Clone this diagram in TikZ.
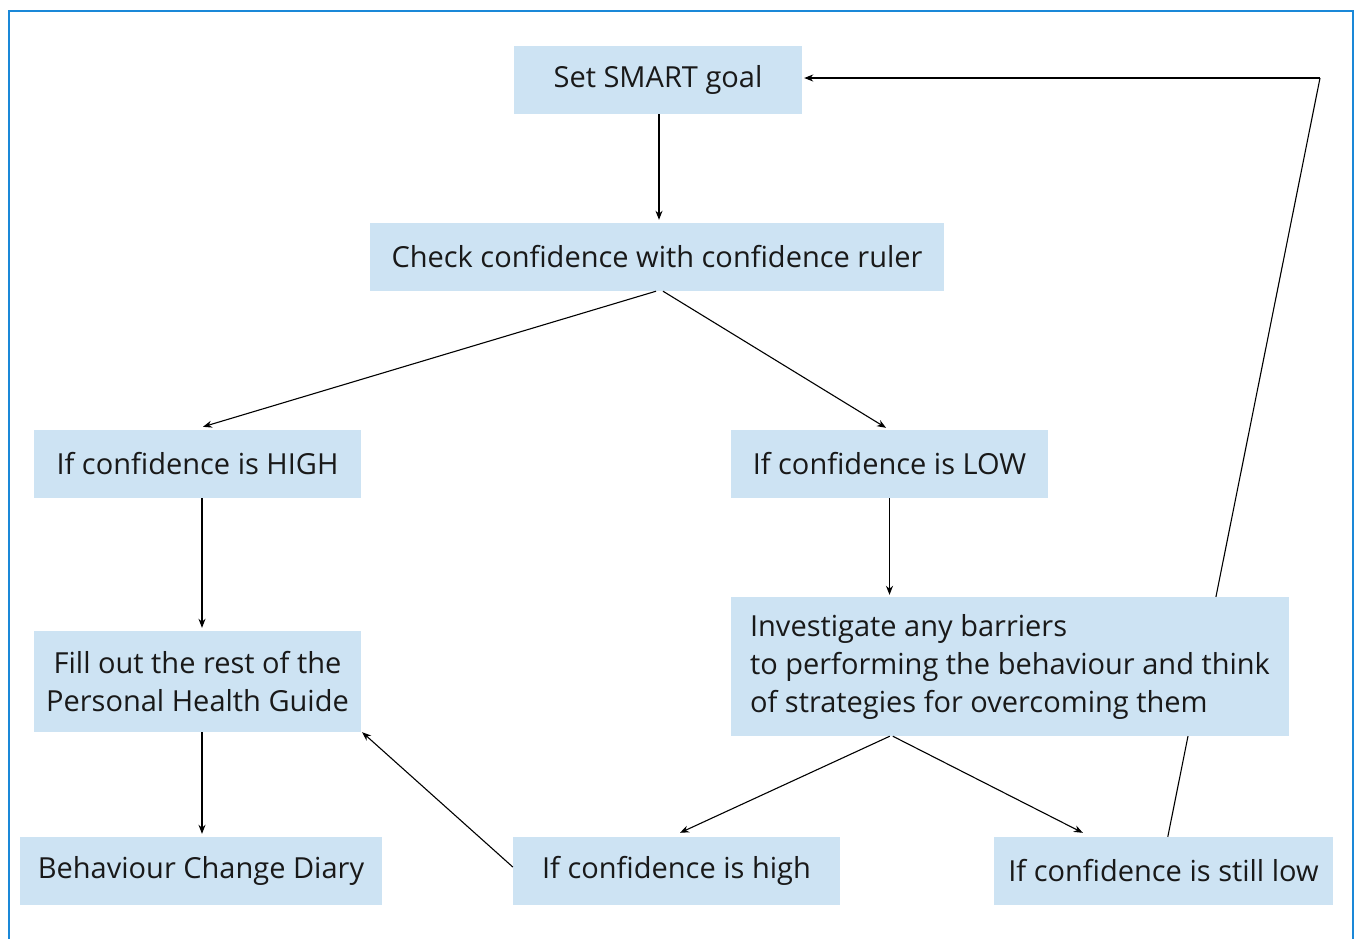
\documentclass[tikz,border=0pt]{standalone}
\usepackage{fontspec}
\setmainfont{Open Sans}
\usetikzlibrary{arrows.meta,calc}
\definecolor{boxblue}{HTML}{CDE3F3}
\definecolor{frameblue}{HTML}{1A88D8}
\begin{document}
\begin{tikzpicture}[x=1pt,y=-1pt,
  box/.style={fill=boxblue,draw=none,inner sep=0pt,font=\fontsize{29}{38}\selectfont,text=black!90},
  conn/.style={draw=black,line width=1.1pt,-{Stealth[length=9pt,width=7pt]}},
  plain/.style={draw=black,line width=1.1pt}]
\useasboundingbox (0,0) rectangle (1357,938);
\draw[frameblue,line width=2pt] (9,950) -- (9,11) -- (1353,11) -- (1353,950);
% loop line drawn first so that it passes behind the box
\node[box,minimum width=339,minimum height=68] (still) at (1163.5,871) {If confidence is still low};
\coordinate (corner) at (1320,78);
\draw[plain] ($(still.north west)+(174,0)$) -- (corner);
\node[box,minimum width=288,minimum height=68] (smart) at (658,80) {Set SMART goal};
\node[box,minimum width=574,minimum height=68] (check) at (657,257) {Check confidence with confidence ruler};
\node[box,minimum width=327,minimum height=68] (hi) at (197.5,464) {If confidence is HIGH};
\node[box,minimum width=317,minimum height=68] (lo) at (889.5,464) {If confidence is LOW};
\node[box,minimum width=327,minimum height=101,align=center] (fill) at (197.5,681.5) {Fill out the rest of the\\Personal Health Guide};
\node[box,minimum width=558,minimum height=139,align=left,inner xsep=16pt] (inv) at (1010,666.5) {Investigate any barriers\\to performing the behaviour and think\\of strategies for overcoming them};
\node[box,minimum width=362,minimum height=68] (diary) at (201,871) {Behaviour Change Diary};
\node[box,minimum width=327,minimum height=68] (high) at (676.5,871) {If confidence is high};
% connectors
\draw[conn] ($(smart.south)+(1,0)$) -- ($(check.north)+(2,-3)$);
\draw[conn] ($(check.south)+(-1,0)$) -- ($(hi.north)+(5.5,-3)$);
\draw[conn] ($(check.south)+(6,0)$) -- ($(lo.north)+(-3.5,-2)$);
\draw[conn] ($(hi.south)+(4.5,0)$) -- ($(fill.north)+(4.5,-3)$);
\draw[conn] (lo.south) -- ($(lo.south |- inv.north)+(0,-2)$);
\draw[conn] ($(fill.south)+(4.5,0)$) -- ($(diary.north)+(1,-3)$);
\draw[conn] ($(high.west)+(0,-4)$) -- ($(fill.south east)+(1,0)$);
\draw[conn] ($(inv.south west)+(159,0)$) -- ($(high.north)+(3.5,-4)$);
\draw[conn] ($(inv.south west)+(162,0)$) -- ($(still.north west)+(89,-4)$);
\draw[conn] (corner) -- ($(smart.east)+(2,-2)$);
\end{tikzpicture}
\end{document}
